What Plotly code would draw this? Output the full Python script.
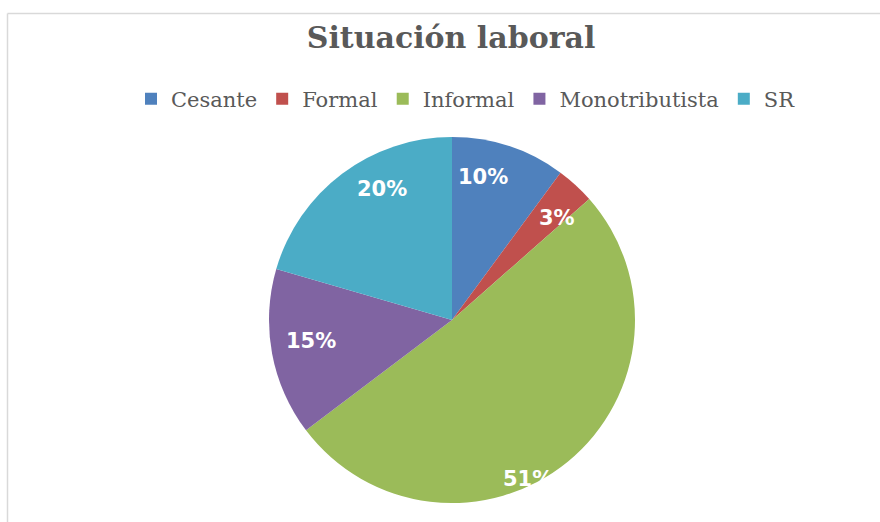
import math
import plotly.graph_objects as go

categories = ["Cesante", "Formal", "Informal", "Monotributista", "SR"]
values = [10.1, 3.4, 51.2, 14.8, 20.5]
colors = ["#4F81BD", "#C0504D", "#9BBB59", "#8064A2", "#4BACC6"]

# label placement style (Excel "best fit" look): angle offset (deg) and radius fraction
label_angle_offset = [-6.0, 3.1, 13.7, 1.9, 8.8]
label_radius_frac = [0.80, 0.80, 0.96, 0.78, 0.81]

W, H = 880, 522
cx, cy, R = 452, 320, 183

fig = go.Figure(go.Pie(
    labels=categories,
    values=values,
    sort=False,
    direction="clockwise",
    rotation=0,
    marker=dict(colors=colors, line=dict(width=0)),
    textinfo="none",
    hoverinfo="label+percent",
    domain=dict(x=[(cx - R) / W, (cx + R) / W], y=[1 - (cy + R) / H, 1 - (cy - R) / H]),
))

total = sum(values)
annotations = []
cum = 0.0
for i, v in enumerate(values):
    mid = (cum + v / 2) / total * 360.0 + label_angle_offset[i]
    cum += v
    th = math.radians(mid)
    r = R * label_radius_frac[i]
    px = cx + r * math.sin(th)
    py = cy - r * math.cos(th)
    annotations.append(dict(
        x=px / W, y=1 - py / H, xref="paper", yref="paper",
        text=f"{round(v / total * 100)}%", showarrow=False,
        font=dict(family="DejaVu Sans", size=21, color="white", weight="bold"),
        xanchor="center", yanchor="middle",
    ))

fig.update_layout(
    width=W, height=H,
    margin=dict(l=0, r=0, t=0, b=0),
    paper_bgcolor="white",
    plot_bgcolor="white",
    title=dict(
        text="<b>Situación laboral</b>",
        x=451 / W, xanchor="center", y=1 - 37 / H, yanchor="middle",
        font=dict(family="DejaVu Serif", size=30, color="#595959"),
    ),
    showlegend=True,
    legend=dict(
        orientation="h", x=466 / W, xanchor="center", y=1 - 99 / H, yanchor="middle",
        font=dict(family="DejaVu Serif", size=21, color="#595959"),
    ),
    annotations=annotations,
    shapes=[
        dict(type="line", xref="paper", yref="paper", x0=7.5 / W, x1=1.01,
             y0=1 - 13.5 / H, y1=1 - 13.5 / H, line=dict(color="#D9D9D9", width=1.5)),
        dict(type="line", xref="paper", yref="paper", x0=7.5 / W, x1=7.5 / W,
             y0=-0.01, y1=1 - 13.5 / H, line=dict(color="#D9D9D9", width=1.5)),
    ],
)

fig.write_html("out.html", config={"displayModeBar": False},
               post_script="document.body.style.margin='0';")
